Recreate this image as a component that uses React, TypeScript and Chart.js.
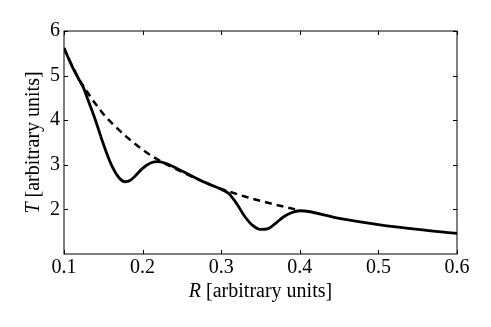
import React, { useEffect, useRef } from "react";
import { Chart, registerables } from "chart.js";

Chart.register(...registerables);

const xTicks = [0.1, 0.2, 0.3, 0.4, 0.5, 0.6];
const yTicks = [2, 3, 4, 5, 6];

const dashedR = [0.10, 0.11, 0.12, 0.13, 0.14, 0.15, 0.16, 0.18, 0.20, 0.22, 0.25, 0.28, 0.30, 0.33, 0.35, 0.38, 0.40];
const dashedT = [5.62, 5.23, 4.90, 4.62, 4.37, 4.14, 3.95, 3.62, 3.34, 3.11, 2.84, 2.60, 2.46, 2.29, 2.19, 2.06, 1.98];

const solidR = [0.10, 0.11, 0.12, 0.125, 0.13, 0.14, 0.15, 0.16, 0.17, 0.178, 0.185, 0.19, 0.20, 0.21, 0.22, 0.23, 0.25, 0.28, 0.30, 0.31, 0.32, 0.33, 0.34, 0.35, 0.36, 0.37, 0.38, 0.39, 0.40, 0.45, 0.50, 0.55, 0.60];
const solidT = [5.62, 5.22, 4.88, 4.72, 4.48, 4.00, 3.47, 3.01, 2.71, 2.62, 2.66, 2.74, 2.92, 3.04, 3.07, 3.03, 2.86, 2.60, 2.45, 2.35, 2.12, 1.84, 1.64, 1.55, 1.57, 1.70, 1.84, 1.93, 1.97, 1.80, 1.66, 1.55, 1.46];

const FONT = "'Liberation Serif', 'DejaVu Serif', serif";

const framePlugin = {
  id: "frame",
  afterDraw(chart: any) {
    const { ctx, chartArea: a, scales } = chart;
    const xs = scales.x;
    const ys = scales.y;
    ctx.save();
    ctx.strokeStyle = "#000";
    ctx.lineWidth = 1;
    ctx.strokeRect(a.left, a.top, a.right - a.left, a.bottom - a.top);
    ctx.beginPath();
    xTicks.forEach((v) => {
      const px = Math.round(xs.getPixelForValue(v)) + 0.5;
      ctx.moveTo(px, a.bottom);
      ctx.lineTo(px, a.bottom - 4);
      ctx.moveTo(px, a.top);
      ctx.lineTo(px, a.top + 4);
    });
    yTicks.forEach((v) => {
      const py = Math.round(ys.getPixelForValue(v)) + 0.5;
      ctx.moveTo(a.left, py);
      ctx.lineTo(a.left + 4, py);
      ctx.moveTo(a.right, py);
      ctx.lineTo(a.right - 4, py);
    });
    ctx.stroke();

    ctx.fillStyle = "#000";
    ctx.textBaseline = "alphabetic";
    const italic = "italic 20px " + FONT;
    const normal = "20px " + FONT;
    const drawTitle = (sym: string, rest: string, cx: number, cy: number, rot: number) => {
      ctx.save();
      ctx.translate(cx, cy);
      ctx.rotate(rot);
      ctx.font = italic;
      const w1 = ctx.measureText(sym).width;
      ctx.font = normal;
      const w2 = ctx.measureText(rest).width;
      const start = -(w1 + w2) / 2;
      ctx.font = italic;
      ctx.fillText(sym, start, 0);
      ctx.font = normal;
      ctx.fillText(rest, start + w1, 0);
      ctx.restore();
    };
    drawTitle("R", " [arbitrary units]", (a.left + a.right) / 2, 297, 0);
    drawTitle("T", " [arbitrary units]", 39, (a.top + a.bottom) / 2, -Math.PI / 2);
    ctx.restore();
  },
};

export default function App() {
  const ref = useRef<HTMLCanvasElement | null>(null);
  useEffect(() => {
    if (!ref.current) return;
    const chart = new Chart(ref.current, {
      type: "line",
      data: {
        datasets: [
          {
            label: "dashed",
            data: dashedR.map((r, i) => ({ x: r, y: dashedT[i] })),
            borderColor: "#000",
            borderWidth: 2.5,
            borderDash: [7, 5],
            pointRadius: 0,
            fill: false,
            cubicInterpolationMode: "monotone",
          },
          {
            label: "solid",
            data: solidR.map((r, i) => ({ x: r, y: solidT[i] })),
            borderColor: "#000",
            borderWidth: 2.8,
            pointRadius: 0,
            fill: false,
            cubicInterpolationMode: "monotone",
          },
        ],
      },
      options: {
        animation: false,
        responsive: false,
        maintainAspectRatio: false,
        layout: { padding: { top: 31, right: 34, left: 0, bottom: 0 } },
        plugins: { legend: { display: false }, tooltip: { enabled: false } },
        scales: {
          x: {
            type: "linear",
            min: 0.1,
            max: 0.6,
            afterFit: (s: any) => { s.height = 73; },
            afterBuildTicks: (s: any) => { s.ticks = xTicks.map((v) => ({ value: v })); },
            grid: { display: false, drawTicks: false },
            border: { display: false },
            ticks: {
              padding: 2,
              color: "#000",
              font: { family: FONT, size: 20 },
              maxRotation: 0,
              callback: (v: any) => Number(v).toFixed(1),
            },
          },
          y: {
            type: "linear",
            min: 1,
            max: 6,
            afterFit: (s: any) => { s.width = 64; },
            afterBuildTicks: (s: any) => { s.ticks = yTicks.map((v) => ({ value: v })); },
            grid: { display: false, drawTicks: false },
            border: { display: false },
            ticks: {
              padding: 4,
              color: "#000",
              font: { family: FONT, size: 20 },
              callback: (v: any) => String(v),
            },
          },
        },
      },
      plugins: [framePlugin],
    });
    return () => chart.destroy();
  }, []);
  return (
    <div style={{ position: "absolute", left: 0, top: 0, width: 491, height: 327, background: "#fff" }}>
      <canvas ref={ref} width={491} height={327} style={{ width: 491, height: 327 }} />
    </div>
  );
}
